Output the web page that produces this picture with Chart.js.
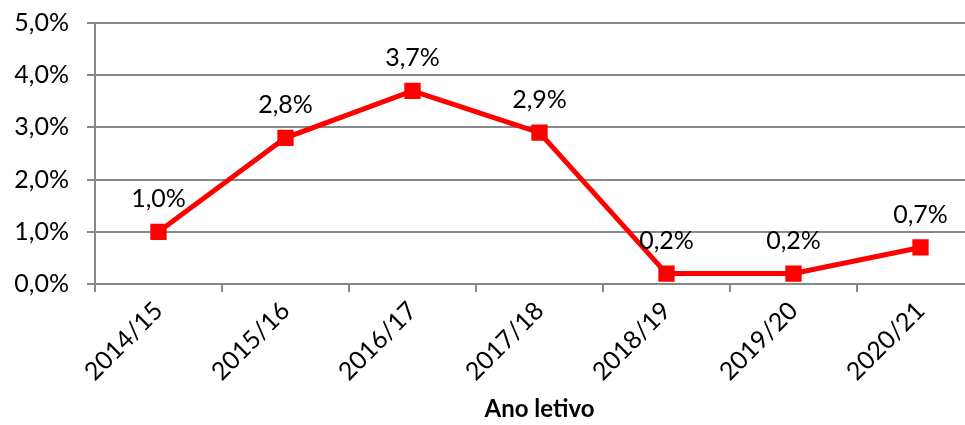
<!DOCTYPE html>
<html><head><meta charset="utf-8">
<script src="https://cdn.jsdelivr.net/npm/chart.js@4"></script>
<style>html,body{margin:0;padding:0;overflow:hidden;background:#fff;width:965px;height:425px}canvas{display:block;margin-top:-10px}</style>
</head><body>
<canvas id="c" width="997" height="435"></canvas>
<script>
const categories = ['2014/15','2015/16','2016/17','2017/18','2018/19','2019/20','2020/21'];
const values = [1.0, 2.8, 3.7, 2.9, 0.2, 0.2, 0.7];
const yTicks = [0,1,2,3,4,5];
const xTitle = 'Ano letivo';
const FONT = 'Lato, "Open Sans", sans-serif';
const fmt = v => v.toFixed(1).replace('.', ',') + '%';

const labelsPlugin = {
  id: 'valLabels',
  afterDatasetsDraw(chart) {
    const ctx = chart.ctx;
    const meta = chart.getDatasetMeta(0);
    ctx.save();
    ctx.font = '25px ' + FONT;
    ctx.fillStyle = '#000';
    ctx.textAlign = 'center';
    ctx.textBaseline = 'middle';
    meta.data.forEach((pt, i) => {
      ctx.fillText(fmt(values[i]), pt.x, pt.y - 33);
    });
    ctx.restore();
  }
};

new Chart(document.getElementById('c'), {
  type: 'line',
  data: {
    labels: categories,
    datasets: [{
      data: values,
      borderColor: '#ff0000',
      backgroundColor: '#ff0000',
      borderWidth: 5,
      pointStyle: 'rect',
      pointRadius: 8,
      pointHoverRadius: 8,
      tension: 0,
      fill: false
    }]
  },
  options: {
    responsive: false,
    animation: false,
    events: [],
    layout: { padding: { top: 12, right: 8, left: 0, bottom: 0 } },
    plugins: { legend: { display: false }, tooltip: { enabled: false } },
    scales: {
      x: {
        type: 'category',
        offset: true,
        afterFit(s) { s.height = 141; },
        grid: { offset: true, drawOnChartArea: false, drawTicks: true, tickLength: 8, color: '#888', lineWidth: 2 },
        border: { color: '#888', width: 2 },
        ticks: { color: '#000', font: { family: FONT, size: 25 }, minRotation: 45, maxRotation: 45, padding: 4, autoSkip: false },
        title: { display: true, text: xTitle, color: '#000', font: { family: FONT, size: 24, weight: 'bold' }, padding: { top: 0, bottom: 1 } }
      },
      y: {
        min: 0, max: 5,
        afterFit(s) { s.width = 95; },
        afterBuildTicks(s) { s.ticks = yTicks.map(v => ({ value: v })); },
        grid: { color: '#888', lineWidth: 2, tickLength: 8 },
        border: { color: '#888', width: 2 },
        ticks: { color: '#000', font: { family: FONT, size: 25 }, padding: 18, callback: v => fmt(v) }
      }
    }
  },
  plugins: [labelsPlugin]
});
</script>
</body></html>
